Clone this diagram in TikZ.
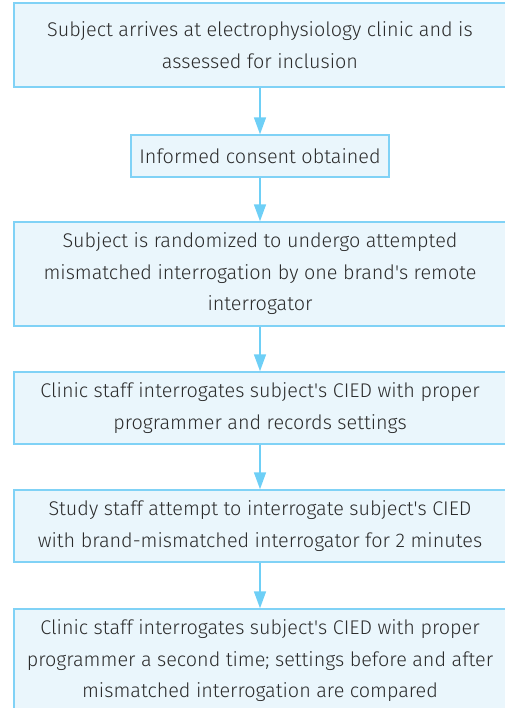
\documentclass[tikz,border=0pt]{standalone}
\usepackage{fontspec}
\setmainfont{Fira Sans Light}
\usetikzlibrary{arrows.meta}
\definecolor{boxfill}{HTML}{EAF6FC}
\definecolor{boxline}{HTML}{80D2F6}
\definecolor{arrowc}{HTML}{6ECFF6}
\definecolor{txt}{HTML}{2B2B2B}
\newcommand{\ap}{\textquotesingle}
\tikzset{
  flowbox/.style={draw=boxline, fill=boxfill, line width=1.4pt, text=txt,
    align=center, inner sep=0pt, font=\fontsize{19.8}{31.5}\selectfont},
  flowarrow/.style={draw=arrowc, line width=1.6pt,
    -{Triangle[width=12pt,length=17pt]}}
}
\begin{document}
\begin{tikzpicture}[x=1pt,y=1pt]
\useasboundingbox (0,0) rectangle (504,-708);
\node[flowbox, minimum width=492pt, minimum height=84pt] (b1) at (260,-45)
  {Subject arrives at electrophysiology clinic and is\\assessed for inclusion};
\node[flowbox, minimum width=258pt, minimum height=42pt] (b2) at (260,-156)
  {Informed consent obtained};
\node[flowbox, minimum width=492pt, minimum height=104pt] (b3) at (260,-274)
  {Subject is randomized to undergo attempted\\mismatched interrogation by one brand\ap s remote\\interrogator};
\node[flowbox, minimum width=492pt, minimum height=72pt] (b4) at (260,-408)
  {Clinic staff interrogates subject\ap s CIED with proper\\programmer and records settings};
\node[flowbox, minimum width=492pt, minimum height=72pt] (b5) at (260,-526)
  {Study staff attempt to interrogate subject\ap s CIED\\with brand-mismatched interrogator for 2 minutes};
\node[flowbox, minimum width=492pt, minimum height=104pt] (b6) at (260,-661)
  {Clinic staff interrogates subject\ap s CIED with proper\\programmer a second time; settings before and after\\mismatched interrogation are compared};
\draw[flowarrow] (b1.south) -- (b2.north);
\draw[flowarrow] (b2.south) -- (b3.north);
\draw[flowarrow] (b3.south) -- (b4.north);
\draw[flowarrow] (b4.south) -- (b5.north);
\draw[flowarrow] (b5.south) -- (b6.north);
\end{tikzpicture}
\end{document}
